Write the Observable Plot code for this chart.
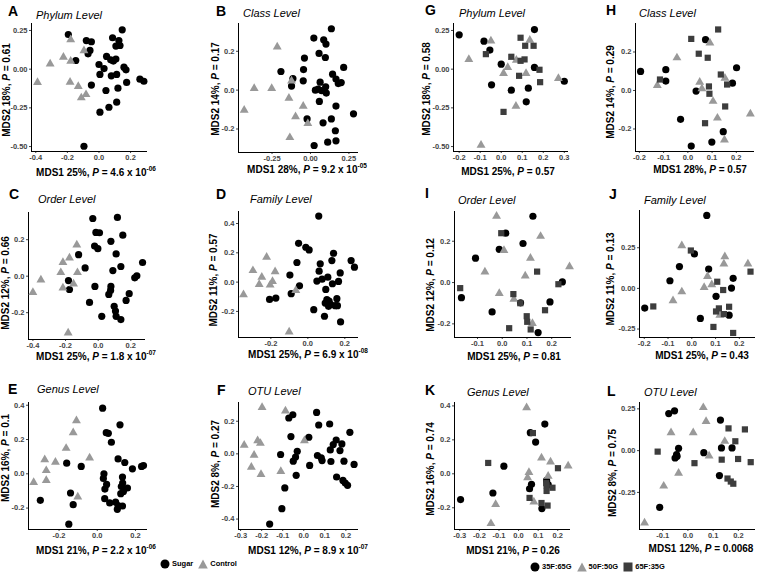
<!DOCTYPE html>
<html><head><meta charset="utf-8">
<script src="https://cdn.jsdelivr.net/npm/d3@7"></script>
<script src="https://cdn.jsdelivr.net/npm/@observablehq/plot@0.6"></script>
<style>
body{margin:0;background:#fff;}
#root{position:relative;width:757px;height:574px;overflow:hidden;font-family:"Liberation Sans",Arial,sans-serif;color:#000;}
.abs{position:absolute;white-space:nowrap;line-height:1;}
.letter{font-weight:bold;font-size:14px;transform:translate(0,-50%);}
.title{font-style:italic;font-size:11px;transform:translate(0,-50%);}
.xlab{font-weight:bold;font-size:10px;transform:translate(-50%,-50%);}
.ylab{font-weight:bold;font-size:10px;transform:translate(-50%,-50%) rotate(-90deg);}
sup{font-size:6.5px;vertical-align:5px;line-height:0;}
.leg{font-weight:bold;font-size:7.5px;display:flex;align-items:center;gap:2px;transform:translate(0,-50%);}
.leg svg{display:block;}
</style></head>
<body><div id="root"></div>
<script>
// ---------- panel text ----------
const panelIds = ["A","B","C","D","E","F","G","H","I","J","K","L"];
const levelTitles = ["Phylum Level","Class Level","Order Level","Family Level","Genus Level","OTU Level","Phylum Level","Class Level","Order Level","Family Level","Genus Level","OTU Level"];
const mds1Pct = ["25%","28%","25%","25%","21%","12%","25%","28%","25%","25%","21%","12%"];
const mds2Pct = ["18%","14%","12%","11%","16%","8%","18%","14%","12%","11%","16%","8%"];
const mds1P = ["4.6 x 10^-06","9.2 x 10^-05","1.8 x 10^-07","6.9 x 10^-08","2.2 x 10^-06","8.9 x 10^-07","0.57","0.57","0.81","0.43","0.26","0.0068"];
const mds2P = ["0.61","0.17","0.66","0.57","0.1","0.27","0.58","0.29","0.12","0.13","0.74","0.75"];
const xTickVals = [[-0.4,-0.2,0,0.2],[-0.25,0,0.25],[-0.4,-0.2,0,0.2],[-0.2,0,0.2],[-0.2,0,0.2],[-0.3,-0.2,-0.1,0,0.1,0.2],
                   [-0.2,-0.1,0,0.1,0.2,0.3],[-0.2,-0.1,0,0.1,0.2],[-0.1,0,0.1,0.2],[-0.2,-0.1,0,0.1,0.2],[-0.3,-0.2,-0.1,0,0.1,0.2],[-0.1,0,0.1,0.2]];
const yTickVals = [[-0.5,-0.25,0,0.25],[-0.2,0,0.2],[-0.2,0,0.2],[-0.2,0,0.2,0.4],[-0.2,0,0.2,0.4],[-0.4,-0.2,0,0.2],
                   [-0.5,-0.25,0,0.25],[-0.2,0,0.2],[-0.2,0,0.2],[-0.25,0,0.25],[-0.2,0,0.2,0.4],[-0.25,0,0.25]];
const leftGroups = ["Sugar","Control"];
const rightGroups = ["35F:65G","50F:50G","65F:35G"];

// ---------- data: [MDS1, MDS2] ----------
const A_sugar = [[-0.194,0.224],[-0.080,0.185],[-0.048,0.177],[-0.069,0.099],[-0.057,0.121],[-0.147,0.056],[-0.048,-0.103],[0.000,0.030],[0.032,0.004],[0.006,-0.034],[0.048,0.082],[0.074,0.060],[0.091,0.052],[0.107,0.065],[0.078,-0.043],[0.112,-0.034],[0.086,0.203],[0.126,0.185],[0.133,0.153],[0.107,0.149],[0.147,0.254],[0.158,0.013],[0.171,-0.004],[0.175,-0.086],[0.044,-0.138],[0.120,-0.123],[0.006,-0.278],[0.063,-0.246],[0.112,-0.213],[0.259,-0.065],[0.284,-0.078],[-0.095,-0.498]];
const A_control = [[-0.179,0.190],[-0.095,0.120],[-0.225,0.078],[-0.309,0.034],[-0.179,0.052],[-0.389,-0.086],[-0.183,-0.084],[-0.131,-0.112],[-0.112,-0.185],[-0.082,-0.164]];
const B_sugar = [[0.022,0.268],[0.136,0.316],[0.086,0.259],[0.101,0.237],[0.056,0.189],[0.097,0.168],[-0.039,0.165],[-0.192,0.096],[-0.045,0.106],[-0.047,0.048],[-0.114,0.060],[-0.123,0.021],[0.216,0.117],[0.144,0.082],[0.166,0.057],[0.181,0.034],[0.200,0.039],[0.063,0.041],[0.032,0.000],[0.050,0.005],[0.099,0.017],[0.103,-0.015],[0.058,-0.058],[0.166,-0.082],[0.136,-0.148],[-0.022,-0.148],[0.082,-0.168],[0.162,-0.209],[0.112,-0.268],[0.166,-0.261],[0.024,-0.285],[0.280,-0.122],[0.073,-0.003]];
const B_control = [[-0.216,0.223],[-0.366,0.009],[-0.252,0.009],[-0.123,0.048],[-0.140,-0.041],[-0.431,-0.103],[-0.047,-0.082],[-0.097,-0.137],[-0.017,-0.172],[-0.134,-0.244]];
const C_sugar = [[-0.033,0.316],[0.118,0.322],[-0.014,0.240],[0.008,0.238],[0.151,0.225],[-0.022,0.165],[-0.002,0.151],[0.078,0.191],[0.110,0.122],[-0.120,0.118],[-0.080,0.045],[0.090,0.031],[0.139,0.053],[-0.182,-0.024],[-0.176,-0.073],[-0.020,-0.056],[0.078,-0.056],[0.076,-0.078],[0.065,-0.100],[0.224,-0.009],[0.237,0.002],[0.272,0.075],[0.190,-0.096],[0.171,-0.133],[0.098,-0.165],[0.106,-0.191],[0.110,-0.220],[0.139,-0.238],[0.022,-0.220],[-0.053,-0.144]];
const C_control = [[-0.131,0.171],[-0.216,0.076],[-0.176,0.100],[-0.229,0.020],[-0.127,0.020],[-0.216,-0.064],[-0.151,-0.042],[-0.351,-0.020],[-0.400,-0.089],[-0.184,-0.311]];
const D_sugar = [[0.059,0.451],[-0.050,0.265],[-0.011,0.238],[0.007,0.220],[-0.059,0.134],[0.139,0.197],[0.130,0.147],[0.234,0.147],[0.252,0.102],[0.067,0.125],[0.061,0.075],[0.175,0.063],[-0.097,0.048],[-0.045,-0.025],[-0.090,-0.079],[-0.207,-0.118],[-0.173,-0.109],[0.049,0.007],[0.077,0.020],[0.108,0.034],[0.166,0.005],[0.133,-0.011],[0.097,-0.050],[0.103,-0.120],[0.115,-0.129],[0.123,-0.152],[0.148,-0.161],[0.160,-0.161],[0.157,-0.113],[0.094,-0.143],[0.032,-0.188],[0.090,-0.233],[0.177,-0.272],[0.112,-0.165]];
const D_control = [[-0.223,0.170],[-0.297,0.079],[-0.249,0.034],[-0.177,0.072],[-0.191,0.005],[-0.263,-0.016],[-0.204,-0.020],[-0.348,-0.086],[-0.065,-0.057],[-0.101,-0.340]];
const E_sugar = [[0.028,0.383],[0.119,0.286],[0.047,0.240],[0.058,0.236],[0.074,0.184],[0.109,0.087],[0.144,0.066],[0.232,0.043],[0.242,0.048],[0.184,0.029],[-0.160,0.062],[-0.084,0.043],[0.035,0.000],[0.032,-0.027],[0.049,-0.062],[0.040,-0.089],[0.132,-0.019],[0.133,-0.054],[0.126,-0.074],[0.158,-0.083],[0.137,-0.103],[0.123,-0.116],[0.039,-0.145],[0.065,-0.170],[0.096,-0.165],[0.109,-0.186],[0.132,-0.188],[0.105,-0.207],[-0.298,-0.155],[-0.140,-0.112],[-0.126,-0.180],[-0.149,-0.294]];
const E_control = [[-0.109,0.310],[-0.126,0.240],[-0.163,0.149],[-0.275,0.083],[-0.219,0.068],[-0.267,0.019],[-0.040,0.093],[-0.333,-0.050],[-0.267,-0.039],[-0.102,-0.135]];
const F_sugar = [[0.061,0.254],[-0.052,0.240],[-0.071,0.220],[0.071,0.177],[0.123,0.183],[-0.061,0.106],[0.024,0.102],[0.154,0.085],[0.140,0.057],[0.181,0.061],[0.126,0.024],[0.172,0.020],[-0.031,0.016],[0.219,0.132],[-0.110,-0.004],[-0.039,-0.020],[-0.050,-0.045],[0.065,-0.010],[0.083,-0.024],[0.087,-0.041],[0.129,-0.047],[0.191,-0.045],[0.239,-0.065],[0.028,-0.071],[-0.036,-0.132],[0.156,-0.142],[0.186,-0.163],[0.197,-0.179],[0.208,-0.193],[-0.090,-0.209],[-0.104,-0.336],[-0.162,-0.431]];
const F_control = [[-0.198,0.285],[-0.087,0.264],[-0.283,0.053],[-0.219,0.081],[-0.206,0.065],[-0.236,-0.008],[-0.249,-0.081],[-0.203,-0.126],[-0.109,-0.108],[0.003,0.081]];
const G_35F = [[-0.200,0.222],[-0.082,0.181],[-0.054,0.123],[-0.046,-0.101],[0.000,0.032],[0.048,-0.136],[0.129,-0.123],[0.119,-0.211],[0.158,0.256],[0.158,0.011],[0.300,-0.078]];
const G_50F = [[-0.049,0.183],[-0.154,0.063],[0.136,0.188],[0.072,0.058],[0.031,0.011],[0.011,-0.028],[0.118,-0.028],[0.070,-0.239],[0.272,-0.060],[-0.096,-0.491]];
const G_65F = [[0.092,0.203],[0.114,0.151],[0.154,0.151],[-0.073,0.097],[0.048,0.080],[0.092,0.054],[0.111,0.063],[0.182,-0.004],[0.085,-0.043],[0.185,-0.084],[0.011,-0.276]];
const H_35F = [[-0.195,0.099],[-0.091,0.108],[-0.091,0.049],[0.073,0.264],[0.201,0.118],[0.184,0.038],[0.034,-0.003],[-0.030,-0.150],[0.146,-0.214],[0.099,-0.268],[0.014,-0.289]];
const H_50F = [[0.091,0.247],[-0.045,0.170],[-0.126,0.026],[0.049,0.043],[0.058,0.009],[0.104,-0.056],[0.153,0.064],[0.122,-0.143],[0.258,-0.122],[0.151,-0.257]];
const H_65F = [[0.014,0.268],[0.125,0.317],[0.045,0.191],[0.082,0.170],[-0.115,0.057],[0.087,0.021],[0.089,-0.017],[0.136,0.083],[0.154,-0.083],[0.162,0.031],[0.071,-0.170]];
const I_35F = [[0.124,0.321],[0.014,0.239],[-0.012,0.161],[0.084,0.189],[-0.108,0.118],[-0.165,-0.073],[-0.041,-0.142],[0.074,-0.098],[0.193,-0.094],[0.243,0.003],[0.145,-0.242]];
const I_50F = [[-0.023,0.321],[0.155,0.224],[0.007,0.156],[0.114,0.118],[-0.070,0.052],[0.093,0.032],[-0.012,-0.053],[0.047,-0.081],[0.122,-0.198],[0.272,0.077]];
const I_65F = [[-0.004,0.239],[-0.170,-0.027],[0.141,0.053],[0.045,-0.056],[0.073,-0.100],[0.227,-0.008],[0.173,-0.134],[0.099,-0.163],[0.101,-0.190],[0.115,-0.227],[0.028,-0.221]];
const J_35F = [[0.063,0.449],[0.011,0.212],[-0.052,0.134],[0.071,0.119],[-0.092,0.047],[0.174,0.062],[0.167,0.002],[0.102,-0.049],[-0.198,-0.121],[0.036,-0.185],[0.157,-0.165]];
const J_50F = [[-0.042,0.263],[0.139,0.195],[0.135,0.150],[0.066,0.074],[0.084,0.023],[0.052,0.006],[-0.042,-0.021],[-0.079,-0.076],[0.236,0.150],[0.118,-0.165]];
const J_65F = [[-0.004,0.233],[-0.162,-0.111],[0.107,0.041],[0.132,-0.010],[0.247,0.103],[0.114,-0.123],[0.102,-0.142],[0.135,-0.158],[0.157,-0.113],[0.091,-0.237],[0.174,-0.274]];
const K_35F = [[0.134,0.293],[0.060,0.242],[0.087,0.187],[-0.075,0.045],[0.066,-0.062],[0.056,-0.088],[0.143,-0.039],[0.151,-0.064],[-0.131,-0.113],[-0.296,-0.152],[0.119,-0.205]];
const K_50F = [[0.041,0.390],[0.117,0.094],[0.163,0.070],[0.053,0.008],[0.046,-0.023],[0.151,-0.014],[0.078,-0.166],[-0.117,-0.180],[-0.141,-0.293],[0.253,0.047]];
const K_65F = [[0.073,0.240],[-0.155,0.064],[0.201,0.033],[0.143,-0.068],[0.173,-0.082],[0.143,-0.101],[0.056,-0.142],[0.117,-0.172],[0.148,-0.187],[0.141,-0.055]];
const L_35F = [[-0.076,0.222],[-0.053,0.238],[-0.037,0.014],[-0.045,-0.024],[-0.051,-0.044],[-0.043,-0.034],[0.063,-0.012],[0.129,0.183],[0.133,0.016],[0.175,0.016],[0.125,-0.149],[-0.112,-0.339]];
const L_50F = [[0.061,0.258],[0.072,0.175],[-0.067,0.107],[0.021,0.107],[0.146,0.056],[0.084,-0.032],[-0.037,-0.135],[-0.096,-0.212],[-0.172,-0.433]];
const L_65F = [[-0.120,-0.006],[0.026,-0.075],[0.161,0.133],[0.226,0.127],[0.188,0.056],[0.134,-0.054],[0.199,-0.050],[0.249,-0.069],[0.157,-0.167],[0.170,-0.185],[0.180,-0.198]];

const panelData = [
  [A_sugar,A_control],[B_sugar,B_control],[C_sugar,C_control],[D_sugar,D_control],[E_sugar,E_control],[F_sugar,F_control],
  [G_35F,G_50F,G_65F],[H_35F,H_50F,H_65F],[I_35F,I_50F,I_65F],[J_35F,J_50F,J_65F],[K_35F,K_50F,K_65F],[L_35F,L_50F,L_65F]
];

// ---------- scales & layout ----------
const xDomains = [[-0.427,0.307],[-0.468,0.3125],[-0.427,0.29],[-0.375,0.274],[-0.36,0.263],[-0.31,0.26],
                  [-0.227,0.32],[-0.216,0.275],[-0.193,0.28],[-0.22,0.268],[-0.327,0.265],[-0.192,0.268]];
const yDomains = [[-0.532,0.295],[-0.321,0.343],[-0.347,0.349],[-0.378,0.482],[-0.325,0.416],[-0.464,0.315],
                  [-0.532,0.295],[-0.317,0.348],[-0.266,0.344],[-0.302,0.479],[-0.328,0.42],[-0.472,0.288]];
// plot area [left, top, right, bottom]
const boxes = [[31,23,147,151],[238,23,358,152],[28,212,145,339],[238,211,358,337],[28,402,147,529],[238,402,358,529],
               [453,23,568,151],[635,23,754,151],[454,211,571,337],[639,210,755,337],[454,402,570,529],[639,402,755,529]];
const letterPos = [[8,11],[216,11],[9,194],[216,194],[8,389],[217,390],[425,10],[606,10],[425,193],[609,194],[425,390],[607,391]];
const titlePos = [[36,15],[243,13],[38,199],[250,199],[37,389],[248,391],[459,13],[639,13],[458,200],[644,200],[467,392],[644,392]];
const xlabPos = [[96,173],[307,170],[96,357],[308,355],[96,551],[308,551],[508,172],[700,170],[514,357],[702,356],[513,551],[701,549]];
const ylabPos = [[7,90],[216,89],[6,283],[214,280],[6,458],[216,464],[427,89],[611,92],[431,285],[611,279],[431,469],[613,473]];

const symStyle = {
  "Sugar":{symbol:"circle",fill:"#000000",r:3.6},
  "Control":{symbol:"triangle",fill:"#999999",r:3.3},
  "35F:65G":{symbol:"circle",fill:"#000000",r:3.6},
  "50F:50G":{symbol:"triangle",fill:"#999999",r:3.3},
  "65F:35G":{symbol:"square",fill:"#3d3d3d",r:3.5}
};

function fmt(ticks){
  const d = ticks.some(t => Math.abs(t*10 - Math.round(t*10)) > 1e-9) ? 2 : 1;
  return t => t.toFixed(d);
}
function pHtml(s){
  const parts = s.split("^");
  return parts.length > 1 ? `${parts[0]}<sup>${parts[1]}</sup>` : s;
}

const root = document.getElementById("root");
function addDiv(cls, x, y, html){
  const el = document.createElement("div");
  el.className = "abs " + cls;
  el.style.left = x + "px"; el.style.top = y + "px";
  el.innerHTML = html;
  root.appendChild(el);
  return el;
}

panelIds.forEach((id, i) => {
  const [L,T,R,B] = boxes[i];
  const ml = 36, mr = 8, mt = 6, mb = 16;
  const groups = i < 6 ? leftGroups : rightGroups;
  const marks = [
    Plot.axisX({ticks: xTickVals[i], tickSize: 2, tickPadding: 1, tickFormat: fmt(xTickVals[i]), label: null}),
    Plot.axisY({ticks: yTickVals[i], tickSize: 2, tickPadding: 2, tickFormat: fmt(yTickVals[i]), label: null}),
    Plot.ruleX([xDomains[i][0]], {stroke: "#000", strokeWidth: 1}),
    Plot.ruleY([yDomains[i][0]], {stroke: "#000", strokeWidth: 1})
  ];
  panelData[i].forEach((arr, g) => {
    const st = symStyle[groups[g]];
    marks.push(Plot.dot(arr, {x: d => d[0], y: d => d[1], symbol: st.symbol, fill: st.fill, r: st.r, stroke: "none"}));
  });
  const svg = Plot.plot({
    width: R - L + ml + mr, height: B - T + mt + mb,
    marginLeft: ml, marginRight: mr, marginTop: mt, marginBottom: mb,
    x: {domain: xDomains[i]}, y: {domain: yDomains[i]},
    style: {fontFamily: '"Liberation Sans", Arial, sans-serif', fontSize: "7.5px", fontWeight: "bold", color: "#444", background: "transparent", overflow: "visible"},
    marks
  });
  svg.style.position = "absolute";
  svg.style.left = (L - ml) + "px";
  svg.style.top = (T - mt) + "px";
  root.appendChild(svg);

  addDiv("letter", letterPos[i][0], letterPos[i][1], id);
  addDiv("title", titlePos[i][0], titlePos[i][1], levelTitles[i]);
  addDiv("xlab", xlabPos[i][0], xlabPos[i][1], `MDS1 ${mds1Pct[i]}, <i>P</i> = ${pHtml(mds1P[i])}`);
  addDiv("ylab", ylabPos[i][0], ylabPos[i][1], `MDS2 ${mds2Pct[i]}, <i>P</i> = ${pHtml(mds2P[i])}`);
});

// ---------- legends ----------
function swatch(name){
  const st = symStyle[name];
  let shape;
  if (st.symbol === "circle") shape = `<circle cx="5" cy="5" r="4.5" fill="${st.fill}"/>`;
  else if (st.symbol === "triangle") shape = `<polygon points="5,0.5 9.8,9.5 0.2,9.5" fill="${st.fill}"/>`;
  else shape = `<rect x="0.5" y="0.5" width="9" height="9" fill="${st.fill}"/>`;
  return `<svg width="10" height="10">${shape}</svg>`;
}
function legend(names, x, y){
  addDiv("leg", x, y, names.map(n => `${swatch(n)}<span style="margin-right:3px">${n}</span>`).join(""));
}
legend(leftGroups, 160, 564);
legend(rightGroups, 530, 567);
</script>
</body></html>
